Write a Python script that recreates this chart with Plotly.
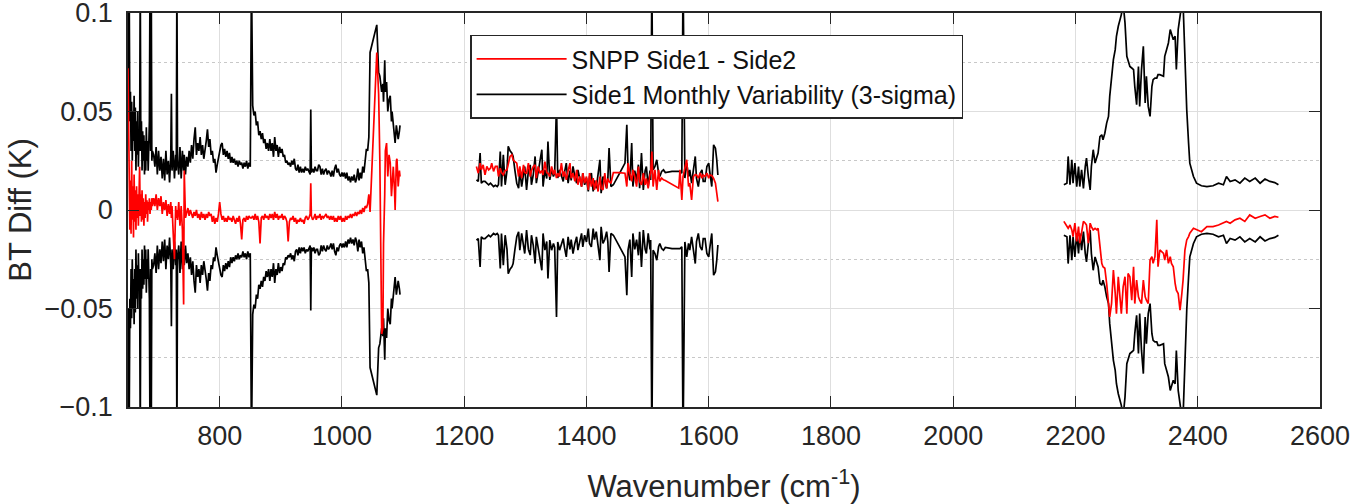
import plotly.graph_objects as go

# ---------------- data ----------------
lw_wn = [650,651,652,653,654,655,656,657,658,659,
         660,661,662,663,664,665,666,667,668,669,
         670,671,672,673,674,675,676,677,678,679,
         680,681,682,683,684,685,686,687,688,689,
         690,692,694,696,698,700,702,704,706,708,
         710,712,714,716,718,720,721,722,724,726,
         728,729,730,731,733,735,737,739,741,742,
         744,746,748,750,752,754,756,758,760,762,
         764,766,768,770,772,774,776,778,780,782,
         784,786,788,790,792,794,796,798,800,802,
         804,806,808,810,812,814,816,818,820,822,
         824,826,828,830,832,834,836,838,840,842,
         844,846,848,850,852,854,856,858,860,862,
         864,866,868,870,872,874,876,878,880,882,
         884,886,888,890,892,894,896,898,900,902,
         904,906,908,910,912,914,916,918,920,922,
         924,926,928,930,932,934,936,938,940,942,
         944,946,948,949,950,952,954,956,958,960,
         962,964,966,968,970,972,974,976,978,980,
         982,984,986,988,990,992,994,996,998,1000,
         1002,1004,1006,1008,1010,1012,1014,1016,1018,1020,
         1022,1024,1026,1028,1030,1032,1034,1036,1038,1040,
         1042,1044,1046,1057,1060,1062,1065,1067,1068,1070,
         1071,1073,1075,1077,1079,1081,1082,1084,1086,1087,
         1089,1090,1092,1094,1095]

lw_sigma3 = [0.12,0.05,0.11,0.045,0.06,0.03,0.055,0.025,0.05,0.035,
             0.058,0.03,0.052,0.02,0.045,0.028,0.05,0.022,0.04,0.03,
             0.12,0.03,0.045,0.02,0.04,0.025,0.038,0.018,0.035,0.02,
             0.042,0.025,0.035,0.02,0.03,0.045,0.12,0.03,0.12,0.025,
             0.03,0.028,0.022,0.032,0.018,0.03,0.02,0.027,0.016,0.026,
             0.015,0.03,0.018,0.025,0.014,0.028,0.059,0.02,0.03,0.016,
             0.028,0.02,0.12,0.025,0.018,0.032,0.016,0.03,0.02,0.028,
             0.018,0.027,0.022,0.03,0.024,0.033,0.026,0.036,0.042,0.028,
             0.034,0.03,0.037,0.028,0.033,0.026,0.03,0.035,0.041,0.032,
             0.036,0.028,0.03,0.024,0.026,0.019,0.023,0.027,0.03,0.033,
             0.034,0.028,0.031,0.027,0.03,0.026,0.029,0.024,0.027,0.024,
             0.026,0.023,0.025,0.022,0.025,0.023,0.024,0.021,0.024,0.022,
             0.025,0.021,0.024,0.022,0.12,0.053,0.048,0.05,0.043,0.045,
             0.038,0.04,0.036,0.039,0.034,0.036,0.031,0.034,0.03,0.036,
             0.03,0.034,0.027,0.037,0.03,0.033,0.027,0.032,0.029,0.031,
             0.027,0.028,0.024,0.025,0.023,0.024,0.022,0.025,0.023,0.026,
             0.021,0.02,0.023,0.019,0.022,0.019,0.021,0.019,0.022,0.02,
             0.021,0.019,0.018,0.051,0.019,0.021,0.019,0.022,0.02,0.02,
             0.023,0.022,0.018,0.021,0.018,0.02,0.021,0.018,0.02,0.019,
             0.017,0.02,0.017,0.021,0.023,0.019,0.021,0.018,0.017,0.019,
             0.017,0.019,0.016,0.019,0.015,0.017,0.014,0.017,0.015,0.018,
             0.014,0.016,0.021,0.015,0.019,0.016,0.022,0.019,0.025,0.031,
             0.03,0.037,0.08,0.094,0.07,0.068,0.06,0.064,0.055,0.076,
             0.06,0.065,0.05,0.056,0.058,0.045,0.05,0.044,0.038,0.034,
             0.043,0.04,0.036,0.04,0.043]

lw_diff = [0.072,0.04,0.02,-0.01,0.015,-0.012,0.025,-0.005,0.012,-0.014,
           0.018,-0.006,0.01,-0.01,0.012,-0.004,0.008,-0.008,0.006,0.022,
           -0.003,0.008,-0.006,0.01,-0.005,0.006,-0.008,0.004,-0.004,0.008,
           -0.002,0.005,-0.006,0.004,0.0,0.006,-0.002,0.004,0.0,0.006,
           0.002,0.006,0.002,0.008,0.0,0.006,0.002,0.007,-0.002,0.004,
           0.0,0.005,-0.003,0.003,-0.002,0.004,-0.004,0.002,-0.012,-0.025,
           0.002,-0.004,0.0,-0.005,0.004,-0.008,0.002,-0.01,-0.048,0.02,
           -0.004,-0.002,0.001,-0.003,0.0,-0.002,-0.004,-0.001,-0.003,0.0,
           -0.004,-0.002,-0.005,-0.001,-0.004,-0.002,-0.005,-0.002,-0.004,-0.001,
           -0.003,-0.002,-0.006,-0.003,-0.007,-0.004,-0.006,-0.002,0.004,-0.002,
           -0.005,-0.003,-0.006,-0.004,-0.006,-0.003,-0.005,-0.004,-0.006,-0.003,
           -0.005,-0.007,-0.004,-0.006,-0.003,-0.007,-0.015,-0.005,-0.004,-0.006,
           -0.003,-0.005,-0.003,-0.004,-0.004,-0.003,-0.005,-0.002,-0.005,-0.003,
           -0.006,-0.017,-0.004,-0.003,-0.005,-0.002,-0.004,-0.003,-0.005,-0.002,
           -0.004,-0.002,-0.005,-0.001,-0.004,-0.002,-0.005,-0.003,-0.004,-0.002,
           -0.005,-0.003,-0.004,-0.006,-0.016,-0.006,-0.004,-0.005,-0.003,-0.006,
           -0.004,-0.007,-0.005,-0.006,-0.004,-0.006,-0.005,-0.007,-0.004,-0.003,
           -0.005,-0.004,-0.002,0.0136,-0.003,-0.005,-0.004,-0.002,-0.005,-0.003,
           -0.004,-0.002,-0.005,-0.003,-0.004,-0.003,-0.002,-0.004,-0.003,-0.005,
           -0.003,-0.005,-0.003,-0.006,-0.004,-0.006,-0.003,-0.005,-0.003,-0.006,
           -0.004,-0.006,-0.003,-0.005,-0.003,-0.004,-0.002,-0.004,-0.002,-0.003,
           -0.001,-0.003,-0.001,-0.002,0.0,-0.002,0.001,-0.001,0.002,0.001,
           0.003,0.008,-0.001,0.08,0.059,0.025,-0.063,-0.06,-0.017,0.008,
           0.03,0.034,0.017,0.028,0.024,0.007,0.014,0.022,0.01,0.0,
           0.025,0.026,0.012,0.02,0.017]

mw_wn = [1220,1223,1226,1228,1231,1234,1237,1240,1243,1245,
         1248,1251,1254,1256,1259,1261,1264,1267,1270,1272,
         1275,1278,1280,1283,1286,1289,1291,1294,1297,1299,
         1302,1305,1308,1310,1313,1316,1318,1321,1324,1327,
         1329,1332,1335,1337,1340,1343,1346,1348,1351,1353,
         1356,1359,1362,1364,1367,1370,1373,1375,1378,1381,
         1384,1386,1389,1392,1394,1397,1400,1403,1405,1408,
         1411,1413,1416,1419,1422,1424,1427,1430,1433,1435,
         1437,1440,1444,1453,1463,1466,1468,1471,1474,1476,
         1479,1482,1485,1487,1490,1493,1496,1498,1501,1504,
         1505,1507,1509,1512,1515,1518,1520,1523,1526,1529,
         1540,1551,1553,1556,1558,1561,1564,1567,1569,1572,
         1575,1578,1580,1583,1586,1589,1591,1594,1597,1600,
         1602,1605,1608,1611,1613,1615]

mw_sigma3 = [0.0153,0.0145,0.0289,0.0136,0.0145,0.0145,0.0136,0.0128,0.0136,0.0128,
             0.0119,0.0125,0.0119,0.0128,0.0297,0.0119,0.028,0.0128,0.02,0.0323,
             0.03,0.0289,0.0272,0.02,0.0136,0.0111,0.0204,0.0119,0.019,0.0221,
             0.0102,0.02,0.0229,0.0128,0.018,0.0272,0.0136,0.02,0.0238,0.0306,
             0.0119,0.0204,0.016,0.0348,0.0153,0.0204,0.017,0.019,0.0543,0.0162,
             0.0204,0.0178,0.0145,0.019,0.0238,0.0136,0.02,0.015,0.0221,0.017,
             0.0136,0.0204,0.016,0.0119,0.0187,0.0128,0.0162,0.0094,0.017,0.0187,
             0.0094,0.015,0.011,0.02,0.0255,0.0085,0.017,0.015,0.011,0.0162,
             0.0314,0.0119,0.0128,0.018,0.0238,0.0433,0.0204,0.015,0.034,0.0119,
             0.02,0.015,0.023,0.0111,0.0289,0.0102,0.02,0.0221,0.0119,0.02,
             0.0153,0.12,0.0204,0.0221,0.0255,0.0187,0.017,0.0196,0.0204,0.019,
             0.0196,0.0196,0.0196,0.0187,0.12,0.0162,0.0238,0.017,0.0204,0.0136,
             0.0221,0.0272,0.016,0.0119,0.0187,0.0204,0.0145,0.0145,0.0221,0.0238,
             0.0187,0.0119,0.0331,0.0314,0.026,0.0178]

mw_diff = [0.0221,0.0187,0.0238,0.0204,0.0229,0.0178,0.0221,0.0204,0.0212,0.0238,
           0.0196,0.0221,0.0221,0.017,0.0212,0.019,0.0178,0.02,0.0204,0.024,
           0.0272,0.028,0.0255,0.0245,0.0238,0.017,0.0221,0.0162,0.0229,0.019,
           0.0187,0.0238,0.017,0.02,0.0221,0.0229,0.0162,0.0221,0.0187,0.02,
           0.0178,0.0245,0.019,0.0187,0.017,0.0221,0.018,0.0204,0.0162,0.0187,
           0.017,0.0238,0.017,0.0196,0.0153,0.02,0.0238,0.0162,0.0187,0.0145,
           0.0204,0.0128,0.017,0.0119,0.0187,0.0136,0.017,0.0102,0.0187,0.0119,
           0.0162,0.0102,0.015,0.0094,0.017,0.011,0.0102,0.0187,0.011,0.016,
           0.0145,0.0136,0.019,0.019,0.0187,0.0119,0.0238,0.0187,0.0145,0.0204,
           0.017,0.0119,0.0221,0.0145,0.0128,0.0187,0.0128,0.016,0.011,0.018,
           0.0187,0.0297,0.0119,0.0204,0.0102,0.0204,0.0145,0.0162,0.0153,0.015,
           0.013,0.0111,0.0204,0.0051,0.017,0.0221,0.0255,0.0119,0.0136,0.0051,
           0.017,0.018,0.0178,0.0162,0.0187,0.0162,0.0178,0.017,0.0187,0.0162,
           0.0178,0.0175,0.016,0.0136,0.0085,0.0043]

sw_wn = [2181,2186,2188,2191,2194,2196,2199,2202,2205,2207,
         2210,2213,2216,2218,2221,2224,2226,2229,2232,2235,
         2237,2240,2243,2245,2248,2251,2254,2256,2259,2262,
         2265,2267,2270,2273,2275,2278,2281,2284,2286,2289,
         2292,2295,2297,2300,2303,2305,2308,2311,2314,2316,
         2319,2322,2325,2327,2330,2333,2335,2338,2344,2346,
         2349,2352,2355,2357,2360,2363,2365,2368,2371,2374,
         2376,2379,2382,2385,2387,2393,2398,2406,2415,2425,
         2434,2442,2447,2453,2461,2469,2477,2485,2494,2502,
         2510,2518,2526,2532]

sw_sigma3 = [0.0128,0.0136,0.0272,0.0128,0.0255,0.0136,0.0238,0.0119,0.0221,0.0119,
             0.0204,0.011,0.0221,0.0263,0.017,0.0102,0.0221,0.0306,0.0238,0.0272,
             0.0289,0.0373,0.0382,0.0357,0.039,0.0441,0.0475,0.0577,0.0679,0.0763,
             0.0814,0.0882,0.0933,0.0967,0.0992,0.105,0.095,0.078,0.0763,0.0729,
             0.0721,0.0713,0.0628,0.0535,0.0729,0.0526,0.0713,0.0831,0.0543,0.0679,
             0.0526,0.0475,0.0628,0.0662,0.067,0.067,0.0687,0.0687,0.0679,0.078,
             0.0814,0.0848,0.0916,0.0899,0.0865,0.0882,0.0713,0.0916,0.0984,0.105,
             0.105,0.0763,0.0509,0.034,0.0238,0.017,0.0136,0.0123,0.0119,0.0123,
             0.0136,0.0128,0.017,0.0145,0.0153,0.0136,0.0162,0.0145,0.0162,0.0136,
             0.0157,0.0145,0.0139,0.0128]

sw_diff = [-0.0058,-0.0084,-0.0093,-0.0076,-0.0101,-0.0135,-0.0067,-0.016,-0.0084,-0.0169,
           -0.0101,-0.0058,-0.0067,-0.0076,-0.0169,-0.0067,-0.0084,-0.0101,-0.0093,-0.0101,
           -0.0093,-0.0169,-0.0271,-0.0288,-0.0296,-0.0373,-0.0458,-0.0543,-0.0475,-0.0305,
           -0.0424,-0.0526,-0.0339,-0.0441,-0.0526,-0.039,-0.0339,-0.0526,-0.0322,-0.0339,
           -0.0458,-0.0288,-0.0475,-0.0356,-0.0441,-0.0458,-0.0475,-0.0356,-0.0441,-0.0458,
           -0.0475,-0.0254,-0.0237,-0.0271,-0.0237,-0.005,-0.0288,-0.0203,-0.022,-0.0254,
           -0.0203,-0.0271,-0.0237,-0.0271,-0.0288,-0.0373,-0.0407,-0.0424,-0.0509,-0.0424,
           -0.0356,-0.0203,-0.0152,-0.0135,-0.0118,-0.0093,-0.0101,-0.011,-0.0084,-0.0084,
           -0.0076,-0.0067,-0.0058,-0.0067,-0.005,-0.0042,-0.0058,-0.0025,-0.0042,-0.0033,
           -0.0025,-0.0042,-0.0033,-0.0037]

x_ticks = [800, 1000, 1200, 1400, 1600, 1800, 2000, 2200, 2400, 2600]
y_ticks = [-0.1, -0.05, 0, 0.05, 0.1]
y_tick_labels = ["\u22120.1", "\u22120.05", "0", "0.05", "0.1"]
y_minor = [-0.075, -0.025, 0.025, 0.075]

for a, b in [(lw_wn, lw_sigma3), (lw_wn, lw_diff), (mw_wn, mw_sigma3), (mw_wn, mw_diff),
             (sw_wn, sw_sigma3), (sw_wn, sw_diff)]:
    assert len(a) == len(b), (len(a), len(b))

# ---------------- build traces ----------------
bands = [(lw_wn, lw_sigma3, lw_diff), (mw_wn, mw_sigma3, mw_diff), (sw_wn, sw_sigma3, sw_diff)]

bx, by, rx, ry = [], [], [], []
for wn, sg, df in bands:
    bx += list(wn) + [None] + list(wn) + [None]
    by += list(sg) + [None] + [-v for v in sg] + [None]
    rx += list(wn) + [None]
    ry += list(df) + [None]

FONT = "Liberation Sans, Arial, Helvetica, sans-serif"
AX = "#262626"

fig = go.Figure()
fig.add_trace(go.Scatter(x=bx, y=by, mode="lines", connectgaps=False,
                         line=dict(color="black", width=1.7),
                         name="Side1 Monthly Variability (3-sigma)"))
fig.add_trace(go.Scatter(x=rx, y=ry, mode="lines", connectgaps=False,
                         line=dict(color="#ff0000", width=1.7),
                         name="SNPP Side1 - Side2"))

fig.update_layout(
    width=1357, height=504,
    margin=dict(l=128, r=37, t=13, b=97),
    paper_bgcolor="white", plot_bgcolor="white",
    font=dict(family=FONT, color=AX, size=26),
    showlegend=True,
    legend=dict(x=0.287, y=0.945, xanchor="left", yanchor="top",
                bgcolor="white", bordercolor=AX, borderwidth=1.5,
                traceorder="reversed", font=dict(size=25, color="#111111"),
                itemwidth=90, tracegroupgap=0),
)

fig.update_xaxes(
    range=[650, 2600], tickvals=x_ticks, ticktext=[str(v) for v in x_ticks],
    showline=True, linecolor=AX, linewidth=1.5, mirror="allticks",
    ticks="inside", ticklen=11, tickcolor=AX, tickwidth=1.2,
    showgrid=True, gridcolor="#dedede", gridwidth=1, zeroline=False,
    tickfont=dict(size=27, color=AX), ticklabelstandoff=4, automargin=False,
    ticklabeloverflow="allow",
    title=dict(text="Wavenumber (cm<sup>-1</sup>)", font=dict(size=31, color=AX), standoff=25),
)
fig.update_yaxes(
    range=[-0.10002, 0.10002], tickvals=y_ticks, ticktext=y_tick_labels,
    showline=True, linecolor=AX, linewidth=1.5, mirror="allticks",
    ticks="inside", ticklen=11, tickcolor=AX, tickwidth=1.2,
    showgrid=True, gridcolor="#dedede", gridwidth=1, zeroline=False,
    tickfont=dict(size=27, color=AX), ticklabelstandoff=8, automargin=False,
    ticklabeloverflow="allow",
    minor=dict(tickvals=y_minor, showgrid=True, gridcolor="#c8c8c8",
               griddash="dot", gridwidth=1, ticks=""),
    title=dict(text="BT Diff (K)", font=dict(size=31, color=AX), standoff=4),
)

fig.write_html("out.html")
